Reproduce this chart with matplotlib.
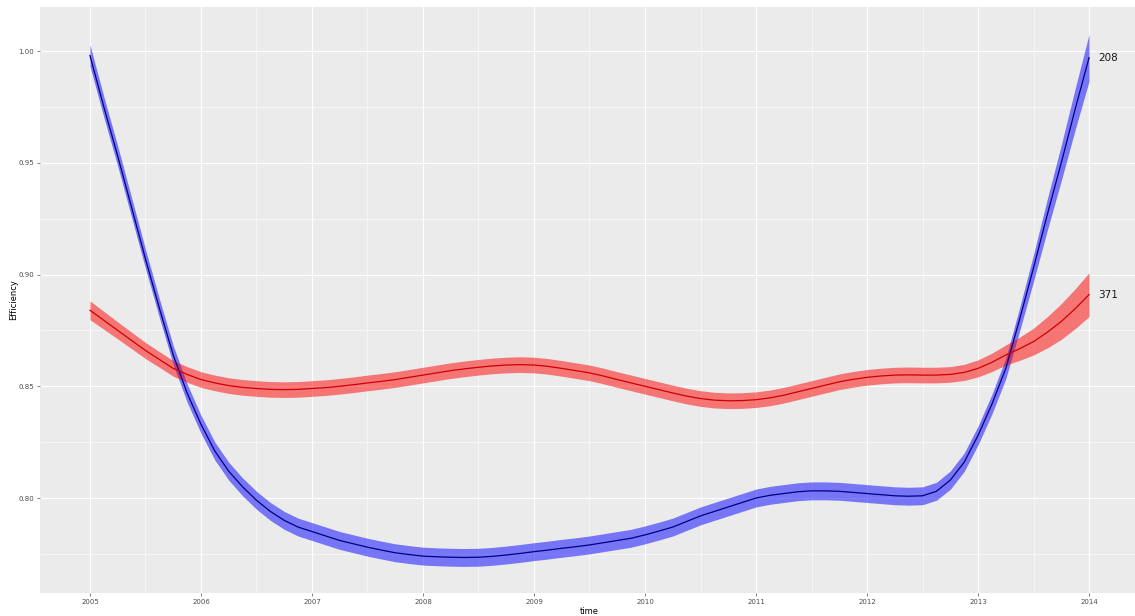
import matplotlib.pyplot as plt
from matplotlib.ticker import MultipleLocator, FormatStrFormatter

# smoothed efficiency per group, read every eighth of a year
years = [2005.000, 2005.125, 2005.250, 2005.375, 2005.500, 2005.625, 2005.750, 2005.875,
         2006.000, 2006.125, 2006.250, 2006.375, 2006.500, 2006.625, 2006.750, 2006.875,
         2007.000, 2007.125, 2007.250, 2007.375, 2007.500, 2007.625, 2007.750, 2007.875,
         2008.000, 2008.125, 2008.250, 2008.375, 2008.500, 2008.625, 2008.750, 2008.875,
         2009.000, 2009.125, 2009.250, 2009.375, 2009.500, 2009.625, 2009.750, 2009.875,
         2010.000, 2010.125, 2010.250, 2010.375, 2010.500, 2010.625, 2010.750, 2010.875,
         2011.000, 2011.125, 2011.250, 2011.375, 2011.500, 2011.625, 2011.750, 2011.875,
         2012.000, 2012.125, 2012.250, 2012.375, 2012.500, 2012.625, 2012.750, 2012.875,
         2013.000, 2013.125, 2013.250, 2013.375, 2013.500, 2013.625, 2013.750, 2013.875,
         2014.000]

eff_208 = [0.998, 0.975, 0.953, 0.930, 0.907, 0.885, 0.864, 0.847,
           0.833, 0.821, 0.812, 0.805, 0.799, 0.794, 0.790, 0.787,
           0.785, 0.783, 0.781, 0.7795, 0.778, 0.7767, 0.7755, 0.7747,
           0.774, 0.7737, 0.7735, 0.7734, 0.7735, 0.7739, 0.7745, 0.7752,
           0.776, 0.7767, 0.7775, 0.7782, 0.779, 0.780, 0.781, 0.782,
           0.7835, 0.7852, 0.787, 0.7895, 0.792, 0.794, 0.796, 0.798,
           0.800, 0.8012, 0.802, 0.8028, 0.8032, 0.8032, 0.803, 0.8025,
           0.802, 0.8015, 0.801, 0.8008, 0.801, 0.803, 0.808, 0.816,
           0.828, 0.842, 0.858, 0.880, 0.903, 0.927, 0.950, 0.974,
           0.997]
se_208 = ([0.0048, 0.0046, 0.0045, 0.0044, 0.0043, 0.0042, 0.0042, 0.0041]
          + [0.004] * 53
          + [0.004, 0.0041, 0.0041, 0.0042, 0.0044, 0.0046,
             0.0052, 0.006, 0.007, 0.008, 0.0092, 0.0105])

eff_371 = [0.884, 0.8795, 0.875, 0.8705, 0.866, 0.862, 0.858, 0.8553,
           0.853, 0.8515, 0.8503, 0.8495, 0.849, 0.8486, 0.8485, 0.8486,
           0.849, 0.8494, 0.850, 0.8507, 0.8515, 0.8522, 0.853, 0.854,
           0.855, 0.856, 0.857, 0.8578, 0.8585, 0.8591, 0.8595, 0.8597,
           0.8595, 0.8589, 0.858, 0.857, 0.856, 0.8546, 0.853, 0.8515,
           0.850, 0.8485, 0.847, 0.8456, 0.8445, 0.8438, 0.8435, 0.8436,
           0.844, 0.8448, 0.846, 0.8475, 0.849, 0.8505, 0.852, 0.8531,
           0.854, 0.8546, 0.855, 0.8551, 0.855, 0.855, 0.8553, 0.8562,
           0.858, 0.8607, 0.864, 0.8668, 0.870, 0.8742, 0.879, 0.8847,
           0.891]
se_371 = ([0.0042, 0.004, 0.0038, 0.0037, 0.0036]
          + [0.0035] * 58
          + [0.0036, 0.0038, 0.0041, 0.0045, 0.0052,
             0.006, 0.007, 0.008, 0.0089, 0.0098])

groups = [('208', eff_208, se_208, '#0000ff', '#000080'),
          ('371', eff_371, se_371, '#ff0000', '#cc0000')]

fig = plt.figure(figsize=(11.35, 6.16), dpi=100)
ax = fig.add_axes([40 / 1135, 1 - 593 / 616, 1 - 40 / 1135, 586 / 616])
ax.set_facecolor('#EBEBEB')

for name, eff, se, fill, line in groups:
    lo = [v - s for v, s in zip(eff, se)]
    hi = [v + s for v, s in zip(eff, se)]
    ax.fill_between(years, lo, hi, color=fill, alpha=0.5, linewidth=0, zorder=2)
    ax.plot(years, eff, color=line, linewidth=0.9, zorder=3)
    ax.text(years[-1] + 0.08, eff[-1], name, fontsize=7.5, color='#1a1a1a',
            va='center', ha='left', zorder=4)

ax.set_xlim(2004.55, 2014.414)
ax.set_ylim(0.7575, 1.0197)
ax.xaxis.set_major_locator(MultipleLocator(1))
ax.xaxis.set_minor_locator(MultipleLocator(0.5))
ax.yaxis.set_major_locator(MultipleLocator(0.05))
ax.yaxis.set_minor_locator(MultipleLocator(0.025))
ax.yaxis.set_major_formatter(FormatStrFormatter('%.2f'))

ax.grid(which='major', color='white', linewidth=0.8, zorder=1)
ax.grid(which='minor', color='white', linewidth=0.4, zorder=1)
ax.set_axisbelow(True)
for s in ax.spines.values():
    s.set_visible(False)

ax.tick_params(which='major', length=2.2, width=0.5, color='#4D4D4D',
               labelsize=5, labelcolor='#4D4D4D', pad=2)
ax.tick_params(which='minor', length=0)

fig.text(589 / 1135, 1 - 611 / 616, 'time', fontsize=6, ha='center', va='center')
fig.text(14 / 1135, 1 - 300 / 616, 'Efficiency', fontsize=6, rotation=90,
         ha='center', va='center')

fig.savefig('out.png', dpi=100)
